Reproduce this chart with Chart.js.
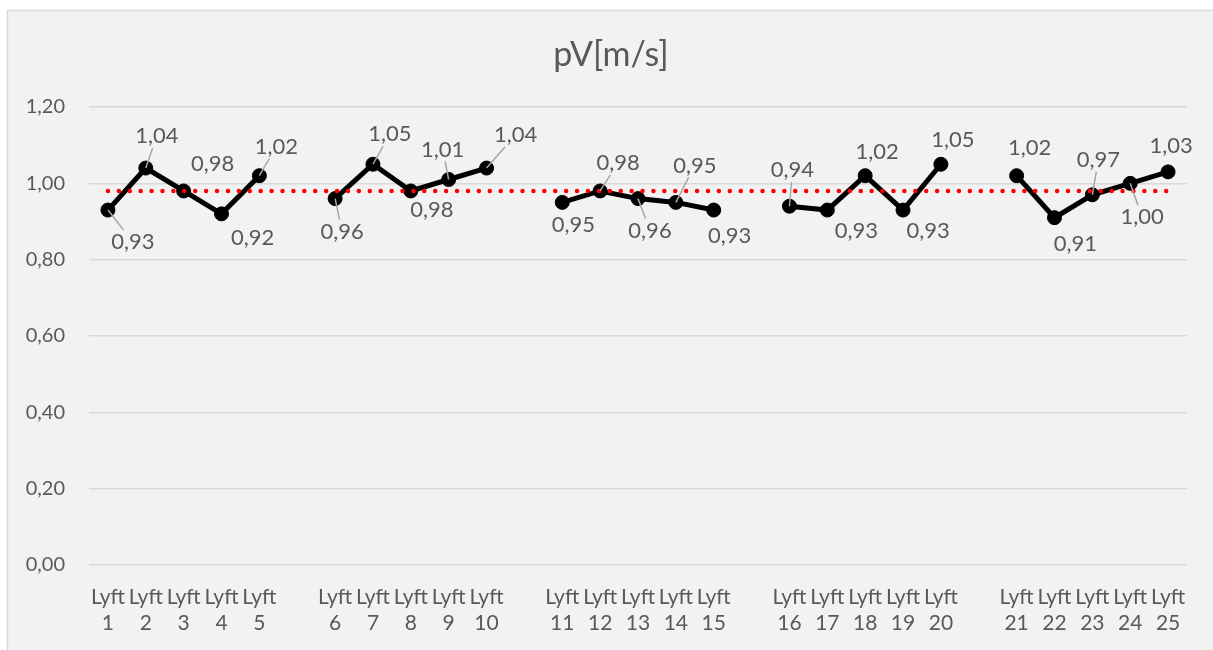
<!DOCTYPE html>
<html>
<head>
<meta charset="utf-8">
<script src="https://cdn.jsdelivr.net/npm/chart.js@4/dist/chart.umd.min.js"></script>
<style>
  html, body { margin: 0; padding: 0; background: #ffffff; }
  #wrap { position: relative; width: 1213px; height: 650px; }
</style>
</head>
<body>
<div id="wrap"><canvas id="myChart" width="1213" height="650"></canvas></div>
<script>
// data, '' = empty slot between the groups
var categories = [
  'Lyft 1', 'Lyft 2', 'Lyft 3', 'Lyft 4', 'Lyft 5', '',
  'Lyft 6', 'Lyft 7', 'Lyft 8', 'Lyft 9', 'Lyft 10', '',
  'Lyft 11', 'Lyft 12', 'Lyft 13', 'Lyft 14', 'Lyft 15', '',
  'Lyft 16', 'Lyft 17', 'Lyft 18', 'Lyft 19', 'Lyft 20', '',
  'Lyft 21', 'Lyft 22', 'Lyft 23', 'Lyft 24', 'Lyft 25'
];
var pV = [
  0.93, 1.04, 0.98, 0.92, 1.02, null,
  0.96, 1.05, 0.98, 1.01, 1.04, null,
  0.95, 0.98, 0.96, 0.95, 0.93, null,
  0.94, 0.93, 1.02, 0.93, 1.05, null,
  1.02, 0.91, 0.97, 1.00, 1.03
];
var average = [
  0.98, 0.98, 0.98, 0.98, 0.98, 0.98, 0.98, 0.98, 0.98, 0.98,
  0.98, 0.98, 0.98, 0.98, 0.98, 0.98, 0.98, 0.98, 0.98, 0.98,
  0.98, 0.98, 0.98, 0.98, 0.98, 0.98, 0.98, 0.98, 0.98
];
var yTicks = [0, 0.2, 0.4, 0.6, 0.8, 1.0, 1.2];

// where the data labels sit, relative to the point (px) + leader line or not
var labelDx = [25, 11, 29, 31, 17, 0, 7, 17, 21, -6, 29, 0, 11, 18, 12, 19, 16, 0, 3, 29, 12, 25, 12, 0, 13, 21, 6, 12, 3];
var labelDy = [32, -32, -27, 24, -29, 0, 33, -30, 19, -30, -33, 0, 22, -28, 32, -37, 26, 0, -36, 21, -24, 21, -24, 0, -28, 26, -35, 34, -26];
var leader  = [1, 1, 0, 0, 1, 0, 1, 1, 0, 1, 1, 0, 0, 1, 1, 1, 0, 0, 1, 0, 0, 0, 0, 0, 0, 0, 1, 1, 0];

var FONT = "Lato, 'Open Sans', sans-serif";
var GREY = '#595959';

function fmt(v) {
  return v.toFixed(2).replace('.', ',');
}

// background frame like the excel chart area
var framePlugin = {
  id: 'frame',
  beforeDraw: function(chart) {
    var c = chart.ctx;
    c.save();
    c.fillStyle = '#ffffff';
    c.fillRect(0, 0, chart.width, chart.height);
    c.fillStyle = '#f2f2f2';
    c.fillRect(7, 10, chart.width - 7, chart.height - 10);
    c.strokeStyle = '#d9d9d9';
    c.lineWidth = 1.5;
    c.beginPath();
    c.moveTo(7.5, chart.height);
    c.lineTo(7.5, 10.5);
    c.lineTo(chart.width, 10.5);
    c.stroke();
    // title
    c.fillStyle = GREY;
    c.font = '34px ' + FONT;
    c.textAlign = 'center';
    c.textBaseline = 'middle';
    c.fillText('pV[m/s]', 611, 55);
    c.restore();
  }
};

// data labels with leader lines
var labelPlugin = {
  id: 'pvLabels',
  afterDatasetsDraw: function(chart) {
    var c = chart.ctx;
    var meta = chart.getDatasetMeta(1);
    c.save();
    c.font = '22px ' + FONT;
    c.textAlign = 'center';
    c.textBaseline = 'middle';
    meta.data.forEach(function(pt, i) {
      var v = pV[i];
      if (v === null || v === undefined) return;
      var lx = pt.x + labelDx[i];
      var ly = pt.y + labelDy[i];
      var txt = fmt(v);
      if (leader[i]) {
        var hw = c.measureText(txt).width / 2 + 3;
        var hh = 12;
        var dx = lx - pt.x, dy = ly - pt.y;
        var s = Math.min(Math.abs(dx) > 0 ? hw / Math.abs(dx) : 99, Math.abs(dy) > 0 ? hh / Math.abs(dy) : 99);
        c.strokeStyle = '#a6a6a6';
        c.lineWidth = 1.5;
        c.beginPath();
        c.moveTo(pt.x, pt.y);
        c.lineTo(lx - s * dx, ly - s * dy);
        c.stroke();
      }
      c.fillStyle = GREY;
      c.fillText(txt, lx, ly);
    });
    c.restore();
  }
};

var ctx = document.getElementById('myChart');

var chart = new Chart(ctx, {
  type: 'line',
  data: {
    labels: categories,
    datasets: [
      {
        label: 'Average',
        data: average,
        borderColor: '#ff0000',
        borderWidth: 4.5,
        borderDash: [0.01, 10.9],
        borderCapStyle: 'round',
        pointRadius: 0,
        fill: false
      },
      {
        label: 'pV[m/s]',
        data: pV,
        borderColor: '#000000',
        backgroundColor: '#000000',
        borderWidth: 5,
        pointRadius: 7,
        pointBorderWidth: 1,
        pointBackgroundColor: '#000000',
        spanGaps: false,
        fill: false
      }
    ]
  },
  options: {
    responsive: false,
    animation: false,
    layout: { padding: { left: 0, right: 26, top: 107, bottom: 0 } },
    plugins: {
      legend: { display: false },
      title: { display: false },
      tooltip: { enabled: false }
    },
    scales: {
      x: {
        offset: true,
        grid: { display: false, drawTicks: false },
        border: { display: false },
        afterFit: function(scale) { scale.height = 85; },
        ticks: {
          autoSkip: false,
          maxRotation: 0,
          padding: 19,
          color: GREY,
          font: { family: FONT, size: 21, lineHeight: 1.25 },
          callback: function(val, i) {
            var s = categories[i];
            return s ? s.split(' ') : '';
          }
        }
      },
      y: {
        min: 0,
        max: 1.2,
        afterFit: function(scale) { scale.width = 89; },
        afterBuildTicks: function(scale) {
          scale.ticks = yTicks.map(function(v) { return { value: v }; });
        },
        grid: { color: '#d9d9d9', lineWidth: 1.5, drawTicks: false },
        border: { display: false },
        ticks: {
          padding: 24,
          color: GREY,
          font: { family: FONT, size: 20 },
          callback: function(v) { return fmt(v); }
        }
      }
    }
  },
  plugins: [framePlugin, labelPlugin]
});
</script>
</body>
</html>
